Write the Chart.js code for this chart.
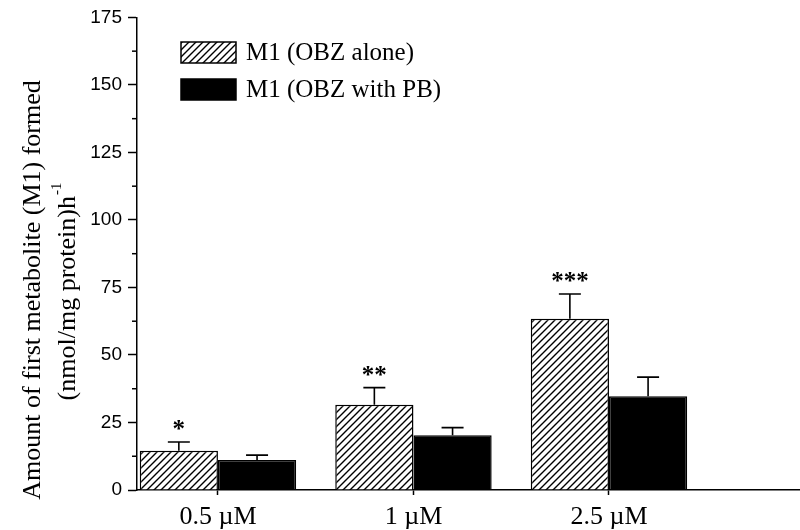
<!DOCTYPE html>
<html>
<head>
<meta charset="utf-8">
<script src="https://cdn.jsdelivr.net/npm/chart.js@4/dist/chart.umd.min.js"></script>
<style>
  body { margin: 0; background: #fff; }
  #wrap { width: 800px; height: 530px; position: relative; }
</style>
</head>
<body>
<div id="wrap"><canvas id="m1Chart"></canvas></div>
<script>
const doses = ['0.5 µM', '1 µM', '2.5 µM']
const aloneMean = [14.5, 31.6, 63.4]
const aloneErr = [3.3, 6.3, 9.2]
const withPbMean = [11.1, 20.3, 34.7]
const withPbErr = [1.8, 2.8, 7.1]
const stars = ['*', '**', '***']
const minorTicks = [12.5, 37.5, 62.5, 87.5, 112.5, 137.5, 162.5]

const serif = '"Liberation Serif", "Times New Roman", serif'

// diagonal hatch fill for the OBZ-alone bars
function makeHatch() {
  let c = document.createElement('canvas')
  c.width = 7
  c.height = 7
  let g = c.getContext('2d')
  g.fillStyle = '#fff'
  g.fillRect(0, 0, 7, 7)
  g.strokeStyle = '#000'
  g.lineWidth = 1.4
  g.beginPath()
  g.moveTo(0, 7); g.lineTo(7, 0)
  g.moveTo(-2, 2); g.lineTo(2, -2)
  g.moveTo(5, 9); g.lineTo(9, 5)
  g.stroke()
  return g.createPattern(c, 'repeat')
}
const hatch = makeHatch()

const errPlugin = {
  id: 'errBars',
  afterDatasetsDraw(chart) {
    let ctx = chart.ctx
    let yScale = chart.scales.y
    let errs = [aloneErr, withPbErr]
    ctx.save()
    ctx.strokeStyle = '#000'
    ctx.lineWidth = 1.6
    chart.data.datasets.forEach((ds, i) => {
      let meta = chart.getDatasetMeta(i)
      meta.data.forEach((bar, j) => {
        let top = yScale.getPixelForValue(ds.data[j].y + errs[i][j])
        ctx.beginPath()
        ctx.moveTo(bar.x, bar.y)
        ctx.lineTo(bar.x, top)
        ctx.moveTo(bar.x - 11, top)
        ctx.lineTo(bar.x + 11, top)
        ctx.stroke()
        if (i == 0) {
          ctx.fillStyle = '#000'
          ctx.font = 'bold 25px ' + serif
          ctx.textAlign = 'center'
          ctx.textBaseline = 'alphabetic'
          ctx.fillText(stars[j], bar.x, top - 5)
        }
      })
    })
    // small in-between ticks on the y axis
    let xa = chart.chartArea.left
    ctx.lineWidth = 1.5
    minorTicks.forEach(v => {
      let py = yScale.getPixelForValue(v)
      ctx.beginPath()
      ctx.moveTo(xa - 5, py)
      ctx.lineTo(xa, py)
      ctx.stroke()
    })
    ctx.restore()
  }
}

const titlePlugin = {
  id: 'yTitle',
  afterDraw(chart) {
    let ctx = chart.ctx
    ctx.save()
    ctx.fillStyle = '#000'
    ctx.textBaseline = 'middle'
    ctx.textAlign = 'center'
    ctx.translate(33, 290)
    ctx.rotate(-Math.PI / 2)
    ctx.font = '26px ' + serif
    ctx.fillText('Amount of first metabolite (M1) formed', 0, 0)
    ctx.restore()

    ctx.save()
    ctx.fillStyle = '#000'
    ctx.textBaseline = 'middle'
    ctx.textAlign = 'left'
    ctx.translate(68, 292)
    ctx.rotate(-Math.PI / 2)
    let main = '(nmol/mg protein)h'
    ctx.font = '26px ' + serif
    let w1 = ctx.measureText(main).width
    ctx.font = '15px ' + serif
    let w2 = ctx.measureText('-1').width
    let x0 = -(w1 + w2) / 2
    ctx.font = '26px ' + serif
    ctx.fillText(main, x0, 0)
    ctx.font = '15px ' + serif
    ctx.fillText('-1', x0 + w1 + 1, -11)
    ctx.restore()
  }
}

const legendPlugin = {
  id: 'boxLegend',
  afterDraw(chart) {
    let ctx = chart.ctx
    let rows = [[42, 21], [79, 21]]
    ctx.save()
    chart.data.datasets.forEach((ds, i) => {
      let [ty, h] = rows[i]
      ctx.fillStyle = ds.backgroundColor
      ctx.fillRect(181, ty, 55, h)
      ctx.strokeStyle = '#000'
      ctx.lineWidth = 1.5
      ctx.strokeRect(181, ty, 55, h)
      ctx.fillStyle = '#000'
      ctx.font = '25px ' + serif
      ctx.textBaseline = 'middle'
      ctx.textAlign = 'left'
      ctx.fillText(ds.label, 246, ty + h / 2 + 1)
    })
    ctx.restore()
  }
}

new Chart(document.getElementById('m1Chart'), {
  type: 'bar',
  data: {
    datasets: [{
      label: 'M1 (OBZ alone)',
      data: aloneMean.map((v, i) => ({ x: i, y: v })),
      backgroundColor: hatch,
      borderColor: '#000',
      borderWidth: 1.5
    }, {
      label: 'M1 (OBZ with PB)',
      data: withPbMean.map((v, i) => ({ x: i, y: v })),
      backgroundColor: '#000',
      borderColor: '#000',
      borderWidth: 1.5
    }]
  },
  options: {
    responsive: true,
    maintainAspectRatio: false,
    animation: false,
    layout: { padding: { top: 15, left: 0, right: 0, bottom: 0 } },
    datasets: { bar: { categoryPercentage: 0.8, barPercentage: 1.0 } },
    plugins: { legend: { display: false }, tooltip: { enabled: false } },
    scales: {
      x: {
        type: 'linear',
        offset: false,
        min: -0.414,
        max: 2.977,
        afterBuildTicks(scale) {
          scale.ticks = doses.map((d, i) => ({ value: i }))
        },
        afterFit(scale) { scale.height = 40 },
        grid: { offset: false, drawOnChartArea: false, drawTicks: true, tickLength: 5, color: '#000', tickWidth: 1.5 },
        border: { display: true, color: '#000', width: 1.5 },
        ticks: {
          autoSkip: false,
          maxRotation: 0,
          padding: 7,
          color: '#000',
          font: { family: serif, size: 26 },
          callback: (v) => doses[v]
        }
      },
      y: {
        min: 0,
        max: 175,
        afterFit(scale) { scale.width = 137 },
        grid: { drawOnChartArea: false, drawTicks: true, tickLength: 9, color: '#000', tickWidth: 1.5 },
        border: { display: true, color: '#000', width: 1.5 },
        ticks: {
          stepSize: 25,
          padding: 6,
          color: '#000',
          font: { family: '"Liberation Sans", Arial, sans-serif', size: 19 }
        }
      }
    }
  },
  plugins: [errPlugin, titlePlugin, legendPlugin]
})
</script>
</body>
</html>
